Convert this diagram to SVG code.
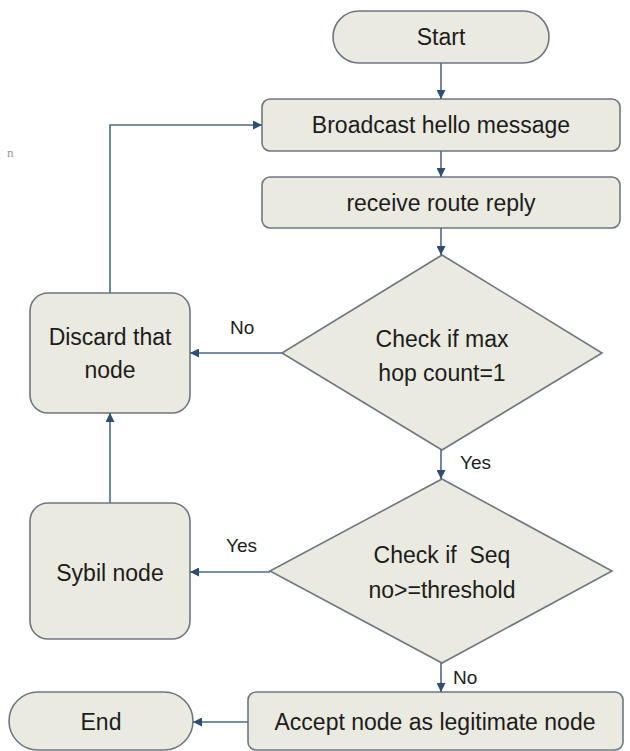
<svg xmlns="http://www.w3.org/2000/svg" width="630" height="751" viewBox="0 0 630 751">
<defs>
<style>
.box{fill:#ebeae0;stroke:#6e7780;stroke-width:1.6}
.t{font-family:"Liberation Sans",Arial,sans-serif;font-size:23px;fill:#1c1c1c;text-anchor:middle;dominant-baseline:central;white-space:pre}
.lbl{font-family:"Liberation Sans",Arial,sans-serif;font-size:19px;fill:#1c1c1c;dominant-baseline:central}
.c{fill:none;stroke:#4d6a88;stroke-width:1.6}
</style>
<marker id="ah" viewBox="0 0 10 10" refX="10" refY="5" markerWidth="9" markerHeight="9" markerUnits="userSpaceOnUse" orient="auto">
<path d="M0,0 L10,5 L0,10 Z" fill="#2e4d73"/>
</marker>
</defs>
<rect width="630" height="751" fill="#ffffff"/>
<text x="7" y="152" font-family="Liberation Serif,serif" font-size="13" fill="#999999" dominant-baseline="central">n</text>

<g id="start">
<rect class="box" x="333" y="11" width="216" height="52" rx="26"/>
<text class="t" x="441" y="37">Start</text>
</g>
<g id="broadcast">
<rect class="box" x="262" y="99" width="358" height="52" rx="8"/>
<text class="t" x="441" y="125">Broadcast hello message</text>
</g>
<g id="receive">
<rect class="box" x="262" y="177" width="358" height="51" rx="8"/>
<text class="t" x="441" y="203">receive route reply</text>
</g>
<g id="check-hop">
<polygon class="box" points="442,255 602,353 442,450 282,353"/>
<text class="t" x="442" y="339">Check if max</text>
<text class="t" x="442" y="373">hop count=1</text>
</g>
<g id="discard">
<rect class="box" x="30" y="293" width="160" height="120" rx="18"/>
<text class="t" x="110" y="337">Discard that</text>
<text class="t" x="110" y="370">node</text>
</g>
<g id="check-seq">
<polygon class="box" points="442,479 612,571 442,663 270,571"/>
<text class="t" x="442" y="555" xml:space="preserve">Check if  Seq</text>
<text class="t" x="442" y="590">no&gt;=threshold</text>
</g>
<g id="sybil">
<rect class="box" x="30" y="503" width="160" height="136" rx="18"/>
<text class="t" x="110" y="573">Sybil node</text>
</g>
<g id="accept">
<rect class="box" x="248" y="692" width="375" height="58" rx="8"/>
<text class="t" x="435" y="722">Accept node as legitimate node</text>
</g>
<g id="end">
<rect class="box" x="9" y="692" width="184" height="58" rx="29"/>
<text class="t" x="101" y="722">End</text>
</g>

<g id="connectors">
<line class="c" x1="441" y1="63" x2="441" y2="99" marker-end="url(#ah)"/>
<line class="c" x1="441" y1="151" x2="441" y2="177" marker-end="url(#ah)"/>
<line class="c" x1="441" y1="228" x2="441" y2="255" marker-end="url(#ah)"/>
<line class="c" x1="282" y1="353" x2="190" y2="353" marker-end="url(#ah)"/>
<polyline class="c" points="110,293 110,125 262,125" marker-end="url(#ah)"/>
<line class="c" x1="441" y1="450" x2="441" y2="479" marker-end="url(#ah)"/>
<line class="c" x1="270" y1="572" x2="190" y2="572" marker-end="url(#ah)"/>
<line class="c" x1="110" y1="503" x2="110" y2="413" marker-end="url(#ah)"/>
<line class="c" x1="441" y1="663" x2="441" y2="692" marker-end="url(#ah)"/>
<line class="c" x1="248" y1="722" x2="193" y2="722" marker-end="url(#ah)"/>
</g>
<g id="labels">
<text class="lbl" x="230" y="327">No</text>
<text class="lbl" x="460" y="462">Yes</text>
<text class="lbl" x="226" y="545">Yes</text>
<text class="lbl" x="453" y="677">No</text>
</g>
</svg>
